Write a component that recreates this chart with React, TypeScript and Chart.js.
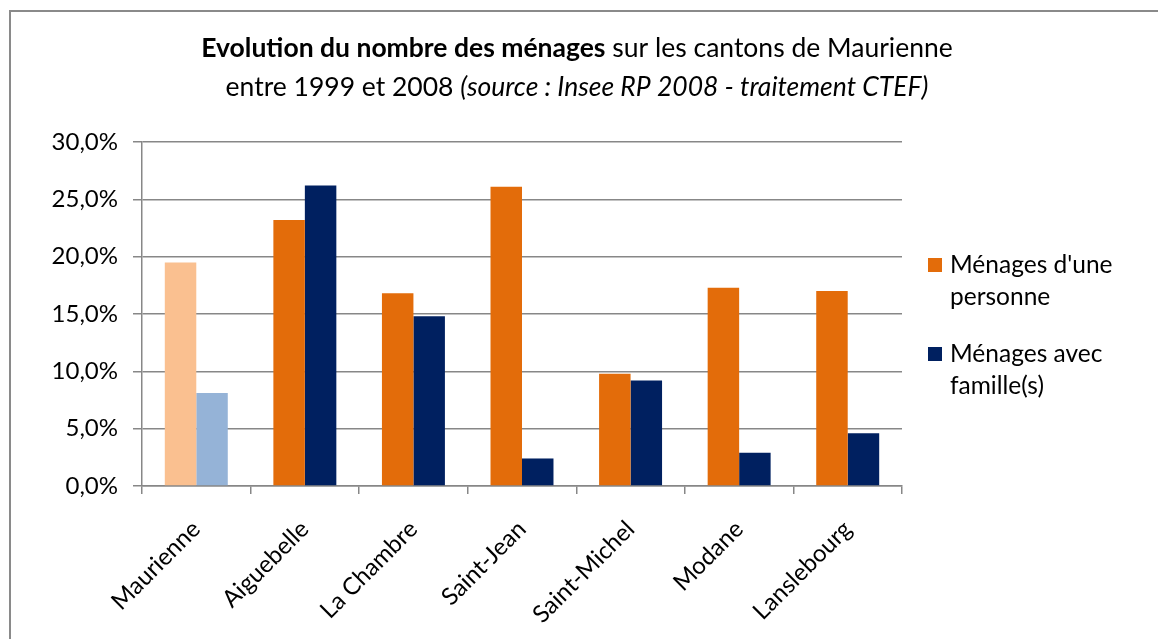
import React, { useEffect, useRef } from "react";
import { Chart, registerables } from "chart.js";

Chart.register(...registerables);

const categories = ["Maurienne", "Aiguebelle", "La Chambre", "Saint-Jean", "Saint-Michel", "Modane", "Lanslebourg"];
const seriesNames = [["Ménages d'une", "personne"], ["Ménages avec", "famille(s)"]];
const onePerson = [19.5, 23.2, 16.8, 26.1, 9.8, 17.3, 17.0];
const withFamily = [8.1, 26.2, 14.8, 2.4, 9.2, 2.9, 4.6];
const orangeMain = "#E36C0A";
const orangeLight = "#FAC090";
const navyMain = "#002060";
const blueLight = "#95B3D7";
const titleBold = "Evolution du nombre des ménages";
const titleRest = " sur les cantons de Maurienne";
const subtitleNormal = "entre 1999 et 2008 ";
const subtitleItalic = "(source : Insee RP 2008 - traitement CTEF)";

const FONT = "Lato, 'Open Sans', sans-serif";

const decorPlugin = {
  id: "decor",
  beforeDraw(chart: any) {
    const ctx = chart.ctx;
    ctx.save();
    ctx.fillStyle = "#ffffff";
    ctx.fillRect(0, 0, chart.width, chart.height);
    ctx.strokeStyle = "#8a8a8a";
    ctx.lineWidth = 2;
    ctx.strokeRect(10, 11, 1300, 800);
    ctx.restore();
  },
  afterDraw(chart: any) {
    const ctx = chart.ctx;
    ctx.save();
    ctx.fillStyle = "#000000";
    ctx.textBaseline = "middle";
    const size = 26.5;
    ctx.font = `bold ${size}px ${FONT}`;
    const wB = ctx.measureText(titleBold).width;
    ctx.font = `${size}px ${FONT}`;
    const wR = ctx.measureText(titleRest).width;
    const cx = 577;
    let x = cx - (wB + wR) / 2;
    ctx.textAlign = "left";
    ctx.font = `bold ${size}px ${FONT}`;
    ctx.fillText(titleBold, x, 48);
    ctx.font = `${size}px ${FONT}`;
    ctx.fillText(titleRest, x + wB, 48);
    ctx.font = `${size}px ${FONT}`;
    const wN = ctx.measureText(subtitleNormal).width;
    ctx.font = `italic ${size}px ${FONT}`;
    const wI = ctx.measureText(subtitleItalic).width;
    x = cx - (wN + wI) / 2;
    ctx.font = `${size}px ${FONT}`;
    ctx.fillText(subtitleNormal, x, 87);
    ctx.font = `italic ${size}px ${FONT}`;
    ctx.fillText(subtitleItalic, x + wN, 87);

    const colors = [orangeMain, navyMain];
    const tops = [258, 347];
    ctx.font = `24.5px ${FONT}`;
    for (let i = 0; i < 2; i++) {
      ctx.fillStyle = colors[i];
      ctx.fillRect(928, tops[i], 14, 14);
      ctx.fillStyle = "#000000";
      ctx.fillText(seriesNames[i][0], 950, tops[i] + 7);
      ctx.fillText(seriesNames[i][1], 950, tops[i] + 39);
    }
    ctx.restore();
  },
};

export default function App() {
  const ref = useRef<HTMLCanvasElement>(null);
  useEffect(() => {
    if (!ref.current) return;
    const chart = new Chart(ref.current, {
      type: "bar",
      data: {
        labels: categories,
        datasets: [
          {
            label: seriesNames[0].join(" "),
            data: onePerson,
            backgroundColor: onePerson.map((_, i) => (i === 0 ? orangeLight : orangeMain)),
            barPercentage: 1,
            categoryPercentage: 0.58,
          },
          {
            label: seriesNames[1].join(" "),
            data: withFamily,
            backgroundColor: withFamily.map((_, i) => (i === 0 ? blueLight : navyMain)),
            barPercentage: 1,
            categoryPercentage: 0.58,
          },
        ],
      },
      options: {
        responsive: false,
        animation: false,
        layout: { padding: { left: 0, top: 142, right: 256, bottom: 0 } },
        plugins: { legend: { display: false }, title: { display: false }, tooltip: { enabled: false } },
        scales: {
          x: {
            afterFit: (s: any) => {
              s.height = 153;
            },
            grid: {
              drawOnChartArea: false,
              drawTicks: true,
              tickLength: 8,
              color: "#878787",
              lineWidth: 1.5,
              offset: true,
            },
            border: { display: true, color: "#878787", width: 1.5 },
            ticks: {
              minRotation: 45,
              maxRotation: 45,
              autoSkip: false,
              color: "#000000",
              font: { family: FONT, size: 24 },
              padding: 21,
            },
          },
          y: {
            min: 0,
            max: 30,
            afterFit: (s: any) => {
              s.width = 142;
            },
            grid: { color: "#878787", lineWidth: 1.5, tickLength: 9 },
            border: { display: true, color: "#878787", width: 1.5 },
            ticks: {
              stepSize: 5,
              color: "#000000",
              font: { family: FONT, size: 24 },
              padding: 15,
              callback: (v: any) => Number(v).toFixed(1).replace(".", ",") + "%",
            },
          },
        },
      },
      plugins: [decorPlugin],
    });
    return () => chart.destroy();
  }, []);
  return (
    <div style={{ position: "absolute", left: 0, top: 0, width: 1158, height: 639 }}>
      <canvas ref={ref} width={1158} height={639} style={{ display: "block" }} />
    </div>
  );
}
